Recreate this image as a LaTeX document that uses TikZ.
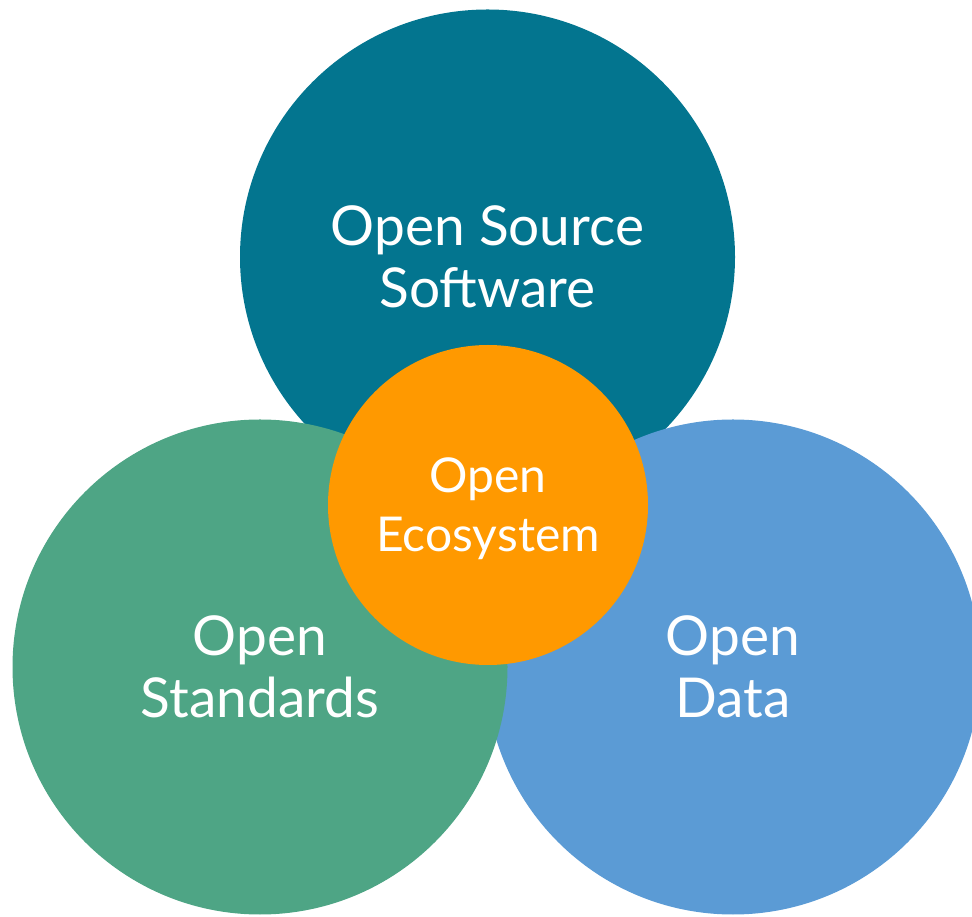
\documentclass[tikz,border=0pt]{standalone}
\usepackage{fontspec}
\setmainfont{Lato}
\definecolor{cteal}{RGB}{3,117,143}
\definecolor{cgreen}{RGB}{78,165,133}
\definecolor{cblue}{RGB}{91,155,213}
\definecolor{corange}{RGB}{255,153,0}
\begin{document}
\begin{tikzpicture}[x=1pt,y=1pt,
  bigc/.style={circle,minimum size=495pt,inner sep=0pt,text=white,align=center,
    font=\fontsize{55}{62}\selectfont},
  smallc/.style={circle,minimum size=320pt,inner sep=0pt},
  smalltext/.style={text=white,align=center,inner sep=0pt,
    font=\fontsize{48}{59}\selectfont}]
\useasboundingbox (0,0) rectangle (972,916);
\clip (0,0) rectangle (972,916);
\node[bigc,fill=cteal] (oss) at (487.5,659) {Open Source\\Software};
\node[bigc,fill=cblue] (od) at (733,249) {Open\\Data};
\node[bigc,fill=cgreen] (ost) at (260,249) {Open\\Standards};
\node[smallc,fill=corange] (oe) at (488,411) {};
\node[smalltext] (oetext) at ([yshift=-4pt]oe.center) {Open\\Ecosystem};
\end{tikzpicture}
\end{document}
